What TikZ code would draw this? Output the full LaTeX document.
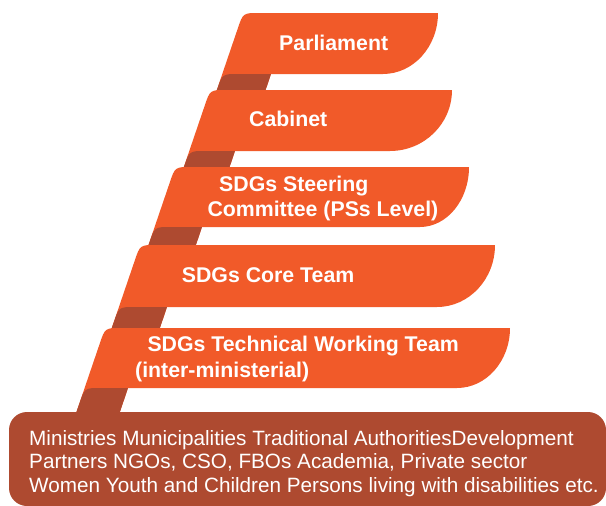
\documentclass[tikz,border=0pt]{standalone}
\usepackage{fontspec}
\setmainfont{Liberation Sans}
\definecolor{ribbonc}{HTML}{F15A29}
\definecolor{foldc}{HTML}{AE4A30}
\tikzset{
  ribbon/.style={fill=ribbonc},
  foldfill/.style={fill=foldc},
  bt/.style={text=white, font=\fontsize{21.3}{25}\selectfont\bfseries, inner sep=0pt, anchor=base west},
  lt/.style={text=white, font=\fontsize{20.7}{23.5}\selectfont, inner sep=0pt, anchor=base west}
}
% #1 top, #2 bottom, #3 left (top corner), #4 right, #5 curve end, #6 strip right at bottom, #7 next top
\newcommand{\ribbonband}[7]{%
  \pgfmathsetmacro{\rbA}{#3-0.34*(#7+8-#1)}%
  \pgfmathsetmacro{\rbB}{#6-0.34*(#7+8-#2)}%
  \pgfmathsetmacro{\rbC}{#1+0.552*(#2-#1)}%
  \pgfmathsetmacro{\rbD}{#5+0.552*(#4-#5)}%
  \pgfmathsetmacro{\rbE}{#7+8}%
  \fill[ribbon] (\rbA,\rbE) -- (#3-5.4,#1+16) .. controls (#3,#1) and (#3,#1) .. (#3+16,#1)
    -- (#4,#1) .. controls (#4,\rbC) and (\rbD,#2) .. (#5,#2) -- (#6,#2) -- (\rbB,\rbE) -- cycle;}
% #1 bottom, #2 left at bottom, #3 strip right, #4 next top
\newcommand{\ribbonfold}[4]{%
  \pgfmathsetmacro{\rfE}{#4+8}%
  \pgfmathsetmacro{\rfA}{#2-0.34*(#4+8-#1)}%
  \pgfmathsetmacro{\rfB}{#3-0.34*(#4+8-#1)}%
  \fill[foldfill] (\rfA,\rfE) -- (#2-5.4,#1+16) .. controls (#2,#1) and (#2,#1) .. (#2+16,#1)
    -- (#3,#1) -- (\rfB,\rfE) -- cycle;}
\begin{document}
\begin{tikzpicture}[x=1pt,y=-1pt]
\useasboundingbox (0,0) rectangle (606,506);
\ribbonband{13}{74}{243}{438}{383}{271}{90}
\ribbonfold{74}{222.3}{271}{90}
\ribbonband{90}{151}{210}{452}{390}{235}{167}
\ribbonfold{151}{189.3}{235}{167}
\ribbonband{167}{227}{175}{469}{420}{202}{245}
\ribbonfold{227}{154.6}{202}{245}
\ribbonband{245}{307}{140}{495}{437}{167}{328}
\ribbonfold{307}{118.9}{167}{328}
\ribbonband{328}{388}{105}{510}{457}{128}{412}
\ribbonfold{388}{84.6}{128}{412}
\fill[foldfill, rounded corners=18pt] (9,412) rectangle (606,506);
\node[bt] (parl) at (279,50.7) {Parliament};
\node[bt] (cab) at (249,126.7) {Cabinet};
\node[bt] (st1) at (219,191.7) {SDGs Steering};
\node[bt] (st2) at (207.3,216) {Committee (PSs Level)};
\node[bt] (core) at (181.7,282.7) {SDGs Core Team};
\node[bt] (tw1) at (147.3,351.7) {SDGs Technical Working Team};
\node[bt] (tw2) at (135,377) {(inter-ministerial)};
\node[lt] (b1) at (29,445) {Ministries Municipalities Traditional AuthoritiesDevelopment};
\node[lt] (b2) at (29,468.5) {Partners NGOs, CSO, FBOs Academia, Private sector};
\node[lt] (b3) at (29,492) {Women Youth and Children Persons living with disabilities etc.};
\end{tikzpicture}
\end{document}
